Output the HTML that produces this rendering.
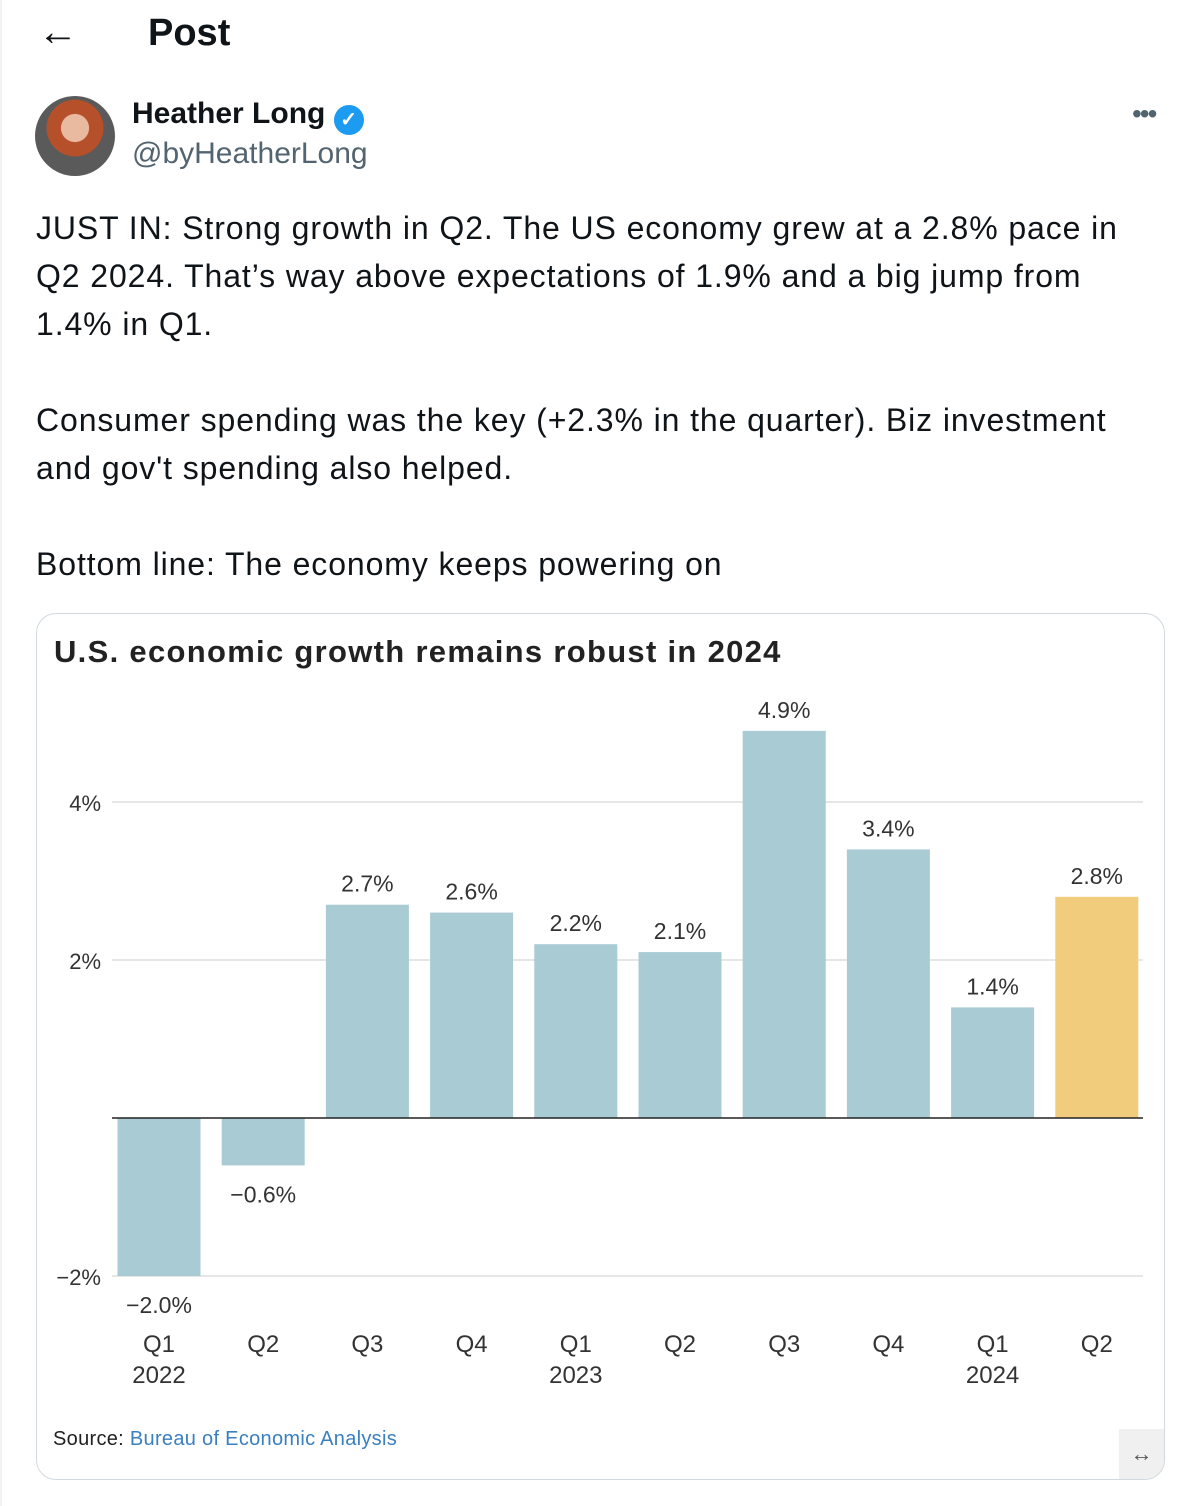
<!DOCTYPE html>
<html><head><meta charset="utf-8">
<style>
body{margin:0;width:1184px;height:1506px;background:#fff;position:relative;overflow:hidden;font-family:"Liberation Sans",sans-serif;color:#0f1419}
.a{position:absolute}
.txt{font-size:32px;line-height:48px;letter-spacing:0.9px;left:36px;white-space:nowrap}
</style></head><body>
<div class="a" style="left:0;top:0;width:2px;height:1506px;background:#eff3f4"></div>
<div class="a" style="left:38px;top:10px;font-size:40px;">&#8592;</div>
<div class="a" style="left:148px;top:12px;font-size:38px;font-weight:bold">Post</div>
<div class="a" style="left:35px;top:96px;width:80px;height:80px;border-radius:50%;background:radial-gradient(circle at 50% 40%,#e9b9a0 0 22%,#b5502a 23% 45%,#5a5a5a 46%);"></div>
<div class="a" style="left:132px;top:97px;font-size:30px;font-weight:bold">Heather Long <span style="display:inline-block;width:30px;height:30px;border-radius:50%;background:#1d9bf0;color:#fff;font-size:20px;text-align:center;line-height:30px;vertical-align:-3px">&#10003;</span></div>
<div class="a" style="left:132px;top:137px;font-size:30px;color:#536471">@byHeatherLong</div>
<div class="a" style="left:1132px;top:98px;font-size:28px;color:#536471;letter-spacing:-2px">•••</div>
<div class="a txt" style="top:204px">JUST IN: Strong growth in Q2. The US economy grew at a 2.8% pace in<br>Q2 2024. That’s way above expectations of 1.9% and a big jump from<br>1.4% in Q1.<br><br>Consumer spending was the key (+2.3% in the quarter). Biz investment<br>and gov't spending also helped.<br><br>Bottom line: The economy keeps powering on</div>
<div class="a" style="left:36px;top:613px;width:1127px;height:865px;border:1.5px solid #cfd9de;border-radius:20px;overflow:hidden">
<div class="a" style="left:1082px;top:815px;width:45px;height:50px;background:#f0f0f0;color:#555;font-size:22px;text-align:center;line-height:50px">&#8596;</div>
</div>
<div class="a" style="left:54px;top:634px;font-size:31px;font-weight:bold;color:#222;letter-spacing:1.3px">U.S. economic growth remains robust in 2024</div>
<div class="a" style="left:53px;top:1428px;font-size:20px;color:#222;letter-spacing:0.3px">Source: <span style="color:#3a7fc0">Bureau of Economic Analysis</span></div>
<svg class="a" style="left:0;top:0" width="1184" height="1506" id="chart"></svg>
<script>
const categories=["Q1","Q2","Q3","Q4","Q1","Q2","Q3","Q4","Q1","Q2"];
const years=["2022","","","","2023","","","","2024",""];
const values=[-2.0,-0.6,2.7,2.6,2.2,2.1,4.9,3.4,1.4,2.8];
const labels=["\u22122.0%","\u22120.6%","2.7%","2.6%","2.2%","2.1%","4.9%","3.4%","1.4%","2.8%"];
const ticks=[-2,2,4];
const tickLabels=["\u22122%","2%","4%"];
const svg=document.getElementById('chart');const NS="http://www.w3.org/2000/svg";
const y=v=>1118-v*79;const x=i=>159+i*104.2;const bw=83;
function mk(t,a){const e=document.createElementNS(NS,t);for(const k in a)e.setAttribute(k,a[k]);svg.appendChild(e);return e;}
ticks.forEach((t,i)=>{
 const l=mk('line',{x1:112,x2:1143,y1:y(t),y2:y(t),stroke:'#ddd','stroke-width':1.5});
 
 
 const tx=mk('text',{x:101,y:y(t)+9,'text-anchor':'end','font-size':22,fill:'#333','font-family':'Liberation Sans'});
 tx.textContent=tickLabels[i];
 
 
});
values.forEach((v,i)=>{
 const top=Math.min(y(v),y(0)),h=Math.abs(y(v)-y(0));
 const r=mk('rect',{x:x(i)-bw/2,y:top,width:bw,height:h,fill:i==values.length-1?'#f2cc7d':'#a9cbd3'});
 
 
 const t=mk('text',{x:x(i),y:v>=0?y(v)-13:y(v)+37,'text-anchor':'middle','font-size':23,fill:'#333','font-family':'Liberation Sans'});
 t.textContent=labels[i];
 
 
 const c=mk('text',{x:x(i),y:1352,'text-anchor':'middle','font-size':24,fill:'#333','font-family':'Liberation Sans'});
 c.textContent=categories[i];
 
 
 if(years[i]){const yy=mk('text',{x:x(i),y:1383,'text-anchor':'middle','font-size':24,fill:'#333','font-family':'Liberation Sans'});
 yy.textContent=years[i];
 
 }
});
const z=mk('line',{x1:112,x2:1143,y1:y(0),y2:y(0),stroke:'#222','stroke-width':1.5});


</script>
</body></html>
